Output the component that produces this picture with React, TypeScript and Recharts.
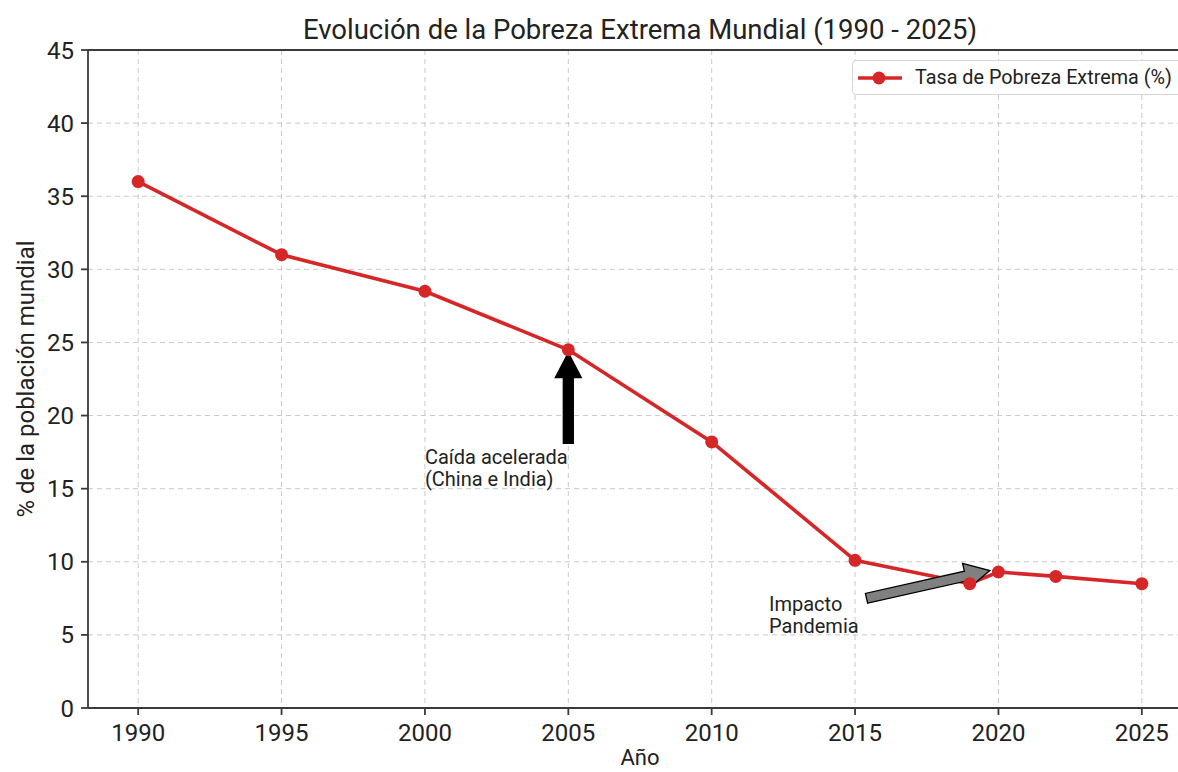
import {
  LineChart,
  Line,
  XAxis,
  YAxis,
  CartesianGrid,
  Legend,
  ReferenceLine,
  ReferenceDot,
} from "recharts";

const YEARS = [1990, 1995, 2000, 2005, 2010, 2015, 2019, 2020, 2022, 2025];
const RATES = [36, 31, 28.5, 24.5, 18.2, 10.1, 8.5, 9.3, 9.0, 8.5];
const X_TICKS = [1990, 1995, 2000, 2005, 2010, 2015, 2020, 2025];
const Y_TICKS = [0, 5, 10, 15, 20, 25, 30, 35, 40, 45];
const X_DOMAIN = [1988.25, 2026.75];
const Y_DOMAIN = [0, 45];

const SERIES_NAME = "Tasa de Pobreza Extrema (%)";
const TITLE = "Evolución de la Pobreza Extrema Mundial (1990 - 2025)";

// text anchor (left, last baseline) and arrow tail/tip, in data units
const NOTES = [
  {
    lines: ["Caída acelerada", "(China e India)"],
    x: 2000,
    y: 15.2,
    from: [2005, 18.1],
    to: [2005, 24.3],
    fill: "#000000",
  },
  {
    lines: ["Impacto", "Pandemia"],
    x: 2012,
    y: 5.1,
    from: [2015.4, 7.5],
    to: [2019.7, 9.4],
    fill: "#808080",
  },
];

const data = YEARS.map((year, i) => ({ year, rate: RATES[i] }));

const FONT = "Roboto, 'Noto Sans', sans-serif";
const RED = "#d62728";
const INK = "#3a3a3a";
const TEXT = "#222222";

function arrowShape(fill: string) {
  return (props: any) => {
    const { x1, y1, x2, y2 } = props;
    const dx = x2 - x1;
    const dy = y2 - y1;
    const len = Math.hypot(dx, dy) || 1;
    const ux = dx / len;
    const uy = dy / len;
    const px = -uy;
    const py = ux;
    const head = 25;
    const half = 13;
    const shaft = 5;
    const bx = x2 - ux * head;
    const by = y2 - uy * head;
    const pts = [
      [x1 + px * shaft, y1 + py * shaft],
      [bx + px * shaft, by + py * shaft],
      [bx + px * half, by + py * half],
      [x2, y2],
      [bx - px * half, by - py * half],
      [bx - px * shaft, by - py * shaft],
      [x1 - px * shaft, y1 - py * shaft],
    ];
    return (
      <polygon
        points={pts.map((p) => p.join(",")).join(" ")}
        fill={fill}
        stroke="#000"
        strokeWidth={1.3}
      />
    );
  };
}

function noteText(lines: string[]) {
  return (props: any) => {
    const { cx, cy } = props;
    return (
      <text x={cx} y={cy} fontFamily={FONT} fontSize={20} fill={TEXT}>
        {lines.map((l, i) => (
          <tspan key={l} x={cx} y={cy - (lines.length - 1 - i) * 22}>
            {l}
          </tspan>
        ))}
      </text>
    );
  };
}

function LegendBox() {
  return (
    <div
      style={{
        display: "flex",
        alignItems: "center",
        border: "1px solid #d6d6d6",
        borderRadius: 4,
        background: "rgba(255,255,255,0.85)",
        height: 35,
        width: 332,
        boxSizing: "border-box",
        fontFamily: FONT,
        fontSize: 19.8,
        color: TEXT,
        whiteSpace: "nowrap",
      }}
    >
      <svg width={58} height={20} style={{ marginLeft: 4, flex: "none" }}>
        <line x1={1} y1={10} x2={45} y2={10} stroke={RED} strokeWidth={3.5} />
        <circle cx={22} cy={10} r={6.5} fill={RED} />
      </svg>
      <span>{SERIES_NAME}</span>
    </div>
  );
}

export default function App() {
  return (
    <div
      style={{
        position: "fixed",
        top: 0,
        left: 0,
        width: 1178,
        height: 772,
        overflow: "hidden",
        background: "#fff",
        fontFamily: FONT,
      }}
    >
      <div
        style={{
          position: "absolute",
          top: 14,
          left: 88,
          width: 1104,
          textAlign: "center",
          fontSize: 27.5,
          lineHeight: "32px",
          color: TEXT,
        }}
      >
        {TITLE}
      </div>
      <LineChart
        width={1230}
        height={772}
        data={data}
        margin={{ top: 50, right: 38, bottom: 0, left: 0 }}
      >
        <CartesianGrid stroke="#cacaca" strokeDasharray="5 4" />
        <XAxis
          dataKey="year"
          type="number"
          domain={X_DOMAIN}
          ticks={X_TICKS}
          height={64}
          tickSize={7}
          tickMargin={9}
          stroke={INK}
          strokeWidth={1.8}
          tick={{ fontSize: 24, fill: TEXT, fontFamily: FONT }}
          label={{
            value: "Año",
            position: "insideBottom",
            offset: 7,
            style: { fontSize: 22, fill: TEXT, fontFamily: FONT },
          }}
        />
        <YAxis
          type="number"
          domain={Y_DOMAIN}
          ticks={Y_TICKS}
          width={88}
          tickSize={7}
          tickMargin={7}
          stroke={INK}
          strokeWidth={1.8}
          tick={{ fontSize: 24, fill: TEXT, fontFamily: FONT }}
          label={{
            value: "% de la población mundial",
            angle: -90,
            position: "insideLeft",
            offset: 25,
            style: { fontSize: 24, fill: TEXT, fontFamily: FONT, textAnchor: "middle" },
          }}
        />
        <ReferenceLine y={45} stroke={INK} strokeWidth={1.8} />
        <Legend
          layout="horizontal"
          verticalAlign="middle"
          align="center"
          wrapperStyle={{ position: "absolute", left: 852, top: 60, width: 332 }}
          content={() => <LegendBox />}
        />
        <Line
          type="linear"
          dataKey="rate"
          name={SERIES_NAME}
          stroke={RED}
          strokeWidth={3.6}
          dot={{ r: 6.5, fill: RED, stroke: RED, strokeWidth: 0 }}
          activeDot={false}
          isAnimationActive={false}
        />
        {NOTES.map((n) => (
          <ReferenceLine
            key={n.lines[0] + "-arrow"}
            segment={[
              { x: n.from[0], y: n.from[1] },
              { x: n.to[0], y: n.to[1] },
            ]}
            shape={arrowShape(n.fill)}
          />
        ))}
        {NOTES.map((n) => (
          <ReferenceDot
            key={n.lines[0] + "-text"}
            x={n.x}
            y={n.y}
            r={0}
            shape={noteText(n.lines)}
          />
        ))}
      </LineChart>
    </div>
  );
}
